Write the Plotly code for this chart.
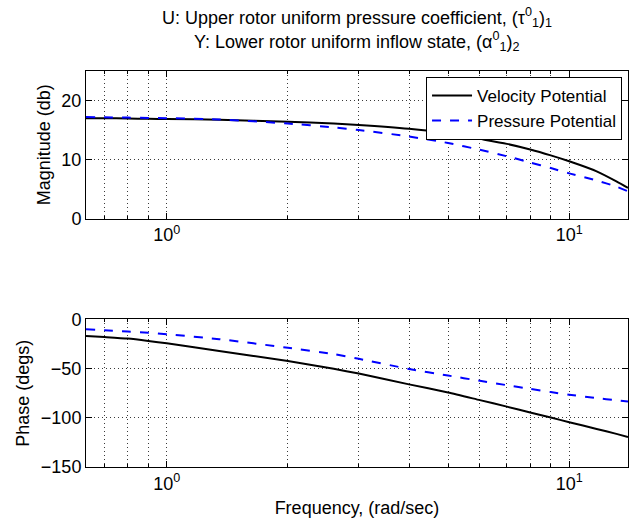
import plotly.graph_objects as go
from plotly.subplots import make_subplots
import numpy as np

# Data
freq = [0.63, 0.7, 0.8, 0.9, 1.0, 1.35, 2.0, 2.6, 3.0, 4.0, 5.0, 6.0, 7.0, 8.0, 9.0, 10.0, 11.7, 13.1, 14.0]
mag_velocity = [17.0, 17.0, 16.95, 16.9, 16.86, 16.75, 16.4, 16.1, 15.85, 15.2, 14.47, 13.5, 12.65, 11.7, 10.7, 9.7, 8.0, 6.3, 5.2]
mag_pressure = [17.2, 17.15, 17.1, 17.05, 17.0, 16.8, 16.1, 15.45, 15.0, 13.9, 12.8, 11.65, 10.55, 9.5, 8.55, 7.65, 6.45, 5.4, 4.6]
phase_velocity = [-16.7, -17.8, -19.4, -21.8, -24.2, -32.0, -42.2, -50.2, -55.0, -66.0, -74.2, -82.0, -88.6, -94.6, -99.7, -104.4, -111.3, -116.3, -119.4]
phase_pressure = [-9.9, -10.9, -12.2, -13.6, -15.0, -20.0, -28.8, -35.2, -40.0, -50.3, -57.0, -62.4, -66.8, -70.6, -73.8, -76.5, -80.0, -82.2, -83.5]

major_vals = [1, 10]
major_text = ["10<sup>0</sup>", "10<sup>1</sup>"]
minor_vals = [0.7, 0.8, 0.9, 2, 3, 4, 5, 6, 7, 8, 9]
mag_ticks = [0, 10, 20]
phase_ticks = [-150, -100, -50, 0]
phase_text = ["\u2212150", "\u2212100", "\u221250", "0"]

GRID = "#3a3a3a"
DASH = "1px,3px"

fig = make_subplots(rows=2, cols=1, vertical_spacing=0.255)

line_v = dict(color="black", width=2, shape="spline", smoothing=0.6)
line_p = dict(color="#0000FF", width=2, dash="dash", shape="spline", smoothing=0.6)

fig.add_trace(go.Scatter(x=freq, y=mag_velocity, mode="lines", name="Velocity Potential", line=line_v), row=1, col=1)
fig.add_trace(go.Scatter(x=freq, y=mag_pressure, mode="lines", name="Pressure Potential", line=line_p), row=1, col=1)
fig.add_trace(go.Scatter(x=freq, y=phase_velocity, mode="lines", showlegend=False, line=line_v), row=2, col=1)
fig.add_trace(go.Scatter(x=freq, y=phase_pressure, mode="lines", showlegend=False, line=line_p), row=2, col=1)

xcommon = dict(type="log", range=[np.log10(0.63), np.log10(14)], tickmode="array",
               tickvals=major_vals, ticktext=major_text,
               showgrid=True, gridcolor=GRID, griddash=DASH, gridwidth=1,
               minor=dict(tickmode="array", tickvals=minor_vals, showgrid=True, gridcolor=GRID,
                          griddash=DASH, gridwidth=1, ticks="inside", ticklen=3, tickcolor="black"),
               showline=True, linecolor="black", linewidth=1, mirror="allticks",
               ticks="inside", ticklen=6, tickcolor="black",
               tickfont=dict(size=18, color="black"), zeroline=False)
ycommon = dict(showgrid=True, gridcolor=GRID, griddash=DASH, gridwidth=1,
               showline=True, linecolor="black", linewidth=1, mirror="allticks",
               ticks="inside", ticklen=6, tickcolor="black",
               tickfont=dict(size=18, color="black"), zeroline=False)

fig.update_xaxes(**xcommon, row=1, col=1)
fig.update_xaxes(**xcommon, row=2, col=1)
fig.update_xaxes(title=dict(text="Frequency, (rad/sec)", font=dict(size=18, color="black"), standoff=8), row=2, col=1)
fig.update_yaxes(**ycommon, range=[0, 25], tickvals=mag_ticks,
                 title=dict(text="Magnitude (db)", font=dict(size=18, color="black"), standoff=6), row=1, col=1)
fig.update_yaxes(**ycommon, range=[-150, 0], tickvals=phase_ticks, ticktext=phase_text,
                 title=dict(text="Phase (degs)", font=dict(size=18, color="black"), standoff=6), row=2, col=1)

fig.add_annotation(text="U: Upper rotor uniform pressure coefficient, (\u03c4<sup>0</sup><sub>1</sub>)<sub>1</sub>",
                   xref="paper", yref="paper", x=0.5, y=1 + 53 / 396, xanchor="center", yanchor="middle",
                   showarrow=False, font=dict(size=18, color="black"))
fig.add_annotation(text="Y: Lower rotor uniform inflow state, (\u03b1<sup>0</sup><sub>1</sub>)<sub>2</sub>",
                   xref="paper", yref="paper", x=0.5, y=1 + 30 / 396, xanchor="center", yanchor="middle",
                   showarrow=False, font=dict(size=18, color="black"))

fig.update_layout(
    width=632, height=521,
    margin=dict(l=86, r=4, t=71, b=54),
    paper_bgcolor="white", plot_bgcolor="white",
    font=dict(family="Liberation Sans, Arial, sans-serif", size=18, color="black"),
    legend=dict(x=0.989, y=0.985, xanchor="right", yanchor="top",
                bgcolor="white", bordercolor="black", borderwidth=1,
                font=dict(size=17, color="black"), tracegroupgap=0, itemwidth=40),
    showlegend=True,
)

fig.write_html("out.html")
